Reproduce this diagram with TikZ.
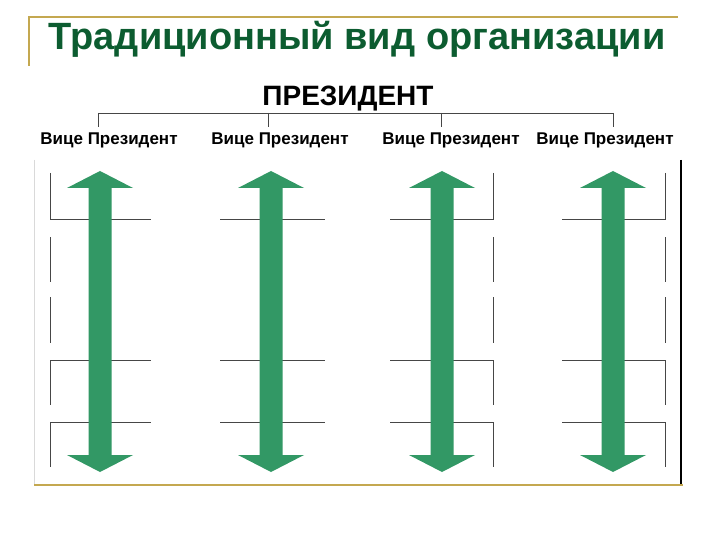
\documentclass[tikz,border=0pt]{standalone}
\usepackage{fontspec}
\setmainfont{Liberation Sans}
\definecolor{titlegreen}{RGB}{12,92,48}
\definecolor{gold}{RGB}{196,168,80}
\definecolor{arrowgreen}{RGB}{50,152,101}
\definecolor{chartgray}{RGB}{70,70,70}
\tikzset{
  goldline/.style={draw=gold, line width=2pt},
  chartline/.style={draw=chartgray, line width=1pt},
  vplabel/.style={font=\bfseries\fontsize{17}{17}\selectfont, inner sep=0pt, anchor=base},
  bigarrow/.style={fill=arrowgreen, draw=none}
}
\begin{document}
\begin{tikzpicture}[x=1pt,y=-1pt]
\useasboundingbox[fill=white] (0,0) rectangle (720,540);
% title frame
\draw[goldline] (29,66) -- (29,17) -- (678,17);
\node[font=\bfseries\fontsize{38}{38}\selectfont, text=titlegreen, inner sep=0pt, anchor=base] (title) at (357,50) {Традиционный вид организации};
% president
\node[font=\bfseries\fontsize{28}{28}\selectfont, inner sep=0pt, anchor=base] (pres) at (348,106) {ПРЕЗИДЕНТ};
\node[vplabel] (vp1) at (109,145) {Вице Президент};
\node[vplabel] (vp2) at (280,145) {Вице Президент};
\node[vplabel] (vp3) at (451,145) {Вице Президент};
\node[vplabel] (vp4) at (605,145) {Вице Президент};
\coordinate (b1) at (98,113);
\coordinate (b2) at (268,113);
\coordinate (b3) at (441,113);
\coordinate (b4) at (613,113);
\draw[chartline, line width=0.8pt] (b1) -- (b4);
\foreach \i in {1,...,4}{
  \draw[chartline, line width=0.8pt] (b\i) -- ++(0,14);
}
% frame
\draw[draw=black!15, line width=1pt] (34,160) -- (34,485);
\draw[draw=black, line width=1.2pt] (681,160) -- (681,485);
\draw[draw=gold, line width=2.5pt] (34,485) -- (683,485);
% chart lines
\foreach \xa/\xb in {50/151, 220/325, 390/493, 562/665}{
  \foreach \yy in {220,360,422}{
    \draw[chartline] (\xa,\yy) -- (\xb,\yy);
  }
}
\foreach \xv in {50,493,665}{
  \foreach \ya/\yb in {173/220, 237/282, 297/343, 360/405, 422/467}{
    \draw[chartline] (\xv,\ya) -- (\xv,\yb);
  }
}
% arrows
\foreach \cx in {100,271,442,613}{
  \fill[bigarrow] (\cx,171) -- (\cx+33,188) -- (\cx+11.5,188) -- (\cx+11.5,455)
    -- (\cx+33,455) -- (\cx,472) -- (\cx-33,455) -- (\cx-11.5,455)
    -- (\cx-11.5,188) -- (\cx-33,188) -- cycle;
}
\end{tikzpicture}
\end{document}
